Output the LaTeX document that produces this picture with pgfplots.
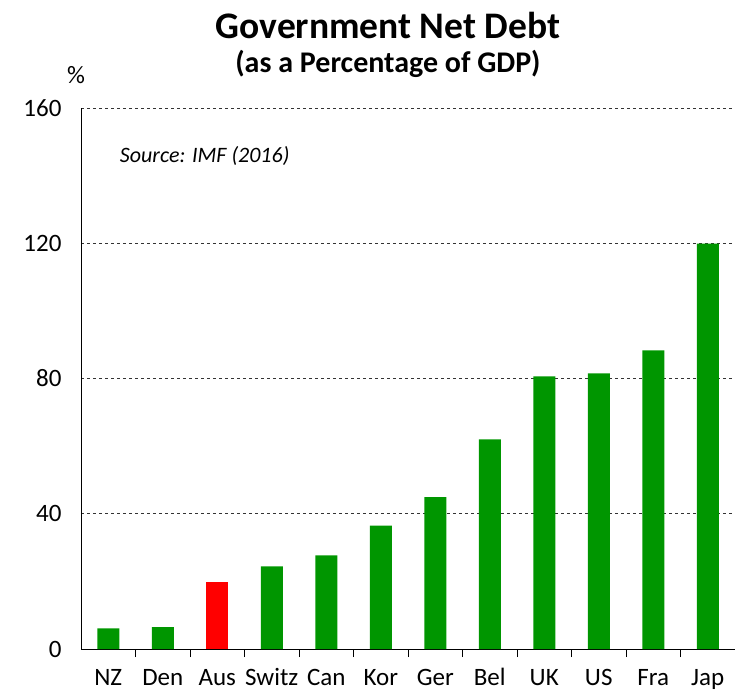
\documentclass[border=0pt]{standalone}
\usepackage{fontspec}
\setmainfont{Carlito}
\usepackage{pgfplots}
\pgfplotsset{compat=1.18}
\definecolor{bargreen}{RGB}{0,150,0}
\definecolor{barred}{RGB}{255,0,0}

\begin{document}
\begin{tikzpicture}[x=1pt,y=1pt]
\begin{axis}[
  scale only axis,
  width=654pt, height=541pt,
  xmin=-0.5, xmax=11.5,
  ymin=0, ymax=160,
  axis x line*=bottom, axis y line*=left,
  axis line style={black, line width=1pt, -},
  xtick={0,...,11},
  xticklabels={NZ,Den,Aus,Switz,Can,Kor,Ger,Bel,UK,US,Fra,Jap},
  minor xtick={0.5,1.5,...,10.5},
  major x tick style={draw=none},
  minor x tick style={black, line width=0.8pt},
  minor tick length=8pt,
  tick align=inside,
  ytick={0,40,80,120,160},
  major y tick style={draw=none},
  ymajorgrids,
  grid style={black!80, dashed, line width=0.8pt},
  tick label style={font=\fontsize{25}{29}\selectfont},
  /pgf/number format/assume math mode=true,
  xticklabel style={anchor=north, text height=17pt, text depth=4pt, yshift=-12pt},
  yticklabel style={xshift=-16pt},
  ybar, bar width=22pt,
  clip=false,
]
\addplot[fill=bargreen, draw=none, bar shift=0pt] coordinates {
  (0,6.1) (1,6.5) (3,24.4) (4,27.7) (5,36.5) (6,44.9)
  (7,62.0) (8,80.6) (9,81.5) (10,88.3) (11,119.9)
};
\addplot[fill=barred, draw=none, bar shift=0pt] coordinates {(2,19.9)};
\node[anchor=west, font=\fontsize{22}{26}\selectfont\itshape] at (axis cs:0.15,145.8) {Source: IMF (2016)};
\end{axis}
\node[font=\fontsize{37.5}{44}\selectfont\bfseries] at (307,624) {Government Net Debt};
\node[font=\fontsize{30}{35}\selectfont\bfseries] at (307,585) {(as a Percentage of GDP)};
\node[font=\fontsize{25}{29}\selectfont] at (-5,574) {\%};
\pgfresetboundingbox
\path (-81,-44) rectangle (654,649);
\end{tikzpicture}
\end{document}
